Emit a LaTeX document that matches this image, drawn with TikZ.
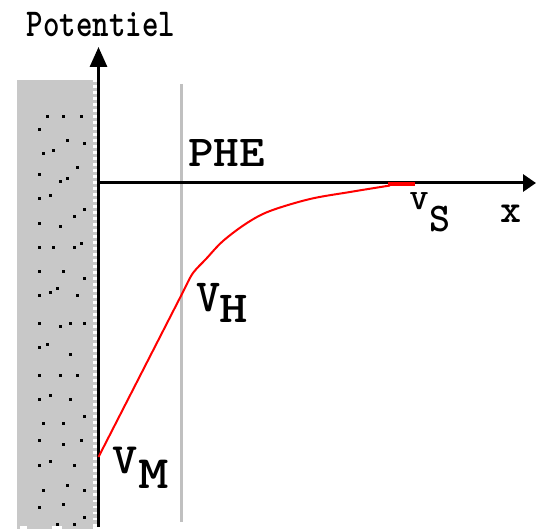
\documentclass[tikz,border=0pt]{standalone}
\usepackage{fontspec}
\usetikzlibrary{arrows.meta}
\definecolor{elec}{RGB}{200,200,200}
\definecolor{phe}{RGB}{192,192,192}
\definecolor{curve}{RGB}{255,0,0}
\newcommand{\lbl}[4]{\scalebox{#2}[#3]{\fontsize{#1}{#1}\selectfont\ttfamily\bfseries #4}}
\tikzset{
  lab/.style={inner sep=0pt, outer sep=0pt, anchor=center, text=black},
  axis/.style={line width=3pt, black},
  dot/.style={fill=black},
}
\begin{document}
\begin{tikzpicture}[x=1pt,y=-1pt]
\useasboundingbox (0,0) rectangle (536,529);
% electrode
\fill[elec] (17,80) rectangle (93,526);
\fill[elec] (17,526) rectangle (20,529);
\fill[elec] (27,526) rectangle (52,529);
\fill[elec] (62,526) rectangle (93,529);
\draw[elec, line width=4pt, dash pattern=on 3.5pt off 2.5pt] (95,82) -- (95,526);
\foreach \p in {(47,117),(63,117),(81,117),(39,130),(67,141),(84,144),(43,154),(53,151),(77,168),(39,175),(67,179),(60,182),(50,196),(39,199),(84,210),(74,217),(39,224),(60,227),(39,248),(53,248),(74,248),(81,244),(39,272),(63,272),(84,279),(50,293),(57,289),(39,296),(77,296),(39,324),(60,327),(70,324),(84,324),(39,348),(47,345),(70,355),(39,376),(60,376),(77,376),(39,400),(50,396),(70,400),(84,417),(43,424),(63,424),(39,441),(63,445),(81,441),(39,466),(50,462),(74,466),(43,490),(67,486),(84,490),(39,507),(63,504),(84,517),(57,524),(74,524)}
  \fill[dot] \p ++(-1.5,-1.5) rectangle ++(3,3);
% PHE line
\coordinate (phetop) at (181.5,84);
\coordinate (phebot) at (181.5,522);
\draw[phe, line width=3pt] (phetop) -- (phebot);
% axes
\coordinate (ybot) at (98.5,527);
\coordinate (ytop) at (98.5,47);
\coordinate (xstart) at (98.5,183);
\coordinate (xend) at (536,183);
\draw[axis, -{Triangle[width=17pt,length=20pt]}] (ybot) -- (ytop);
\draw[axis, -{Triangle[width=17pt,length=13pt]}] (xstart) -- (xend);
% potential curve
\draw[curve, line width=2pt, line join=round] (98.5,457) -- (185,288)
  plot[smooth, tension=0.55] coordinates {(185,288) (193,273) (206,259) (223,241) (247,223) (270,211) (310,199) (350,192) (390,185.5)};
\draw[curve, line width=3.5pt] (388,184) -- (415,184);
% labels
\node[lab] (pot) at (101,25) {\lbl{31.4pt}{1}{1.26}{Potentiel}};
\node[lab] (phelbl) at (226.5,153.5) {\lbl{46pt}{1.06}{0.96}{PHE}};
\node[lab] (xl) at (511,213.5) {\lbl{40pt}{1}{1}{x}};
\node[lab] (vs) at (419,201.5) {\lbl{36pt}{1}{0.77}{V}};
\node[lab] (vss) at (440,219.5) {\lbl{40pt}{1}{1.02}{S}};
\node[lab] (vh) at (208.5,297.5) {\lbl{46pt}{1}{1}{V}};
\node[lab] (vhs) at (233.5,308.5) {\lbl{54pt}{1}{0.82}{H}};
\node[lab] (vm) at (125,460) {\lbl{48pt}{1}{0.9}{V}};
\node[lab] (vms) at (154,474) {\lbl{58pt}{1}{0.8}{M}};
\end{tikzpicture}
\end{document}
